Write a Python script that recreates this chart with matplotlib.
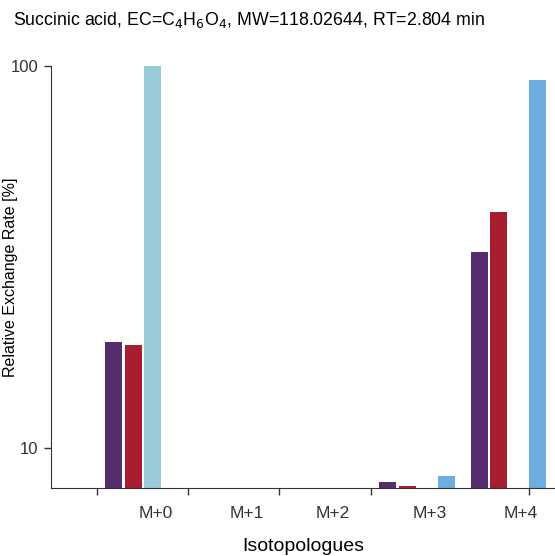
import numpy as np
import matplotlib.pyplot as plt

plt.rcParams['font.family'] = ['Liberation Sans', 'DejaVu Sans']

isotopologues = ["M+0", "M+1", "M+2", "M+3", "M+4"]
# four samples per isotopologue, NaN = not shown
purple_vals = [18.9, np.nan, np.nan, 8.15, 32.6]
red_vals = [18.6, np.nan, np.nan, 7.95, 41.5]
cyan_vals = [100.0, np.nan, np.nan, np.nan, np.nan]
blue_vals = [np.nan, np.nan, np.nan, 8.45, 91.8]

series = [purple_vals, red_vals, cyan_vals, blue_vals]
colors = ["#552D6E", "#A61E2F", "#9ACBD9", "#6EADDF"]

fig = plt.figure(figsize=(5.55, 5.56), dpi=100)
ax = fig.add_axes([51 / 555, 68 / 556, 504 / 555, 422 / 556])

x = np.arange(len(isotopologues))
slot = 0.2136
for j, (vals, c) in enumerate(zip(series, colors)):
    ax.bar(x + (j - 1.5) * slot - 0.01, vals, width=0.186, color=c)

ax.set_yscale("log")
ax.set_ylim(7.86, 100)
ax.set_xlim(-1.019, 4.50)
ax.set_yticks([10, 100])
ax.set_yticklabels(["10", "100"])
ax.yaxis.set_minor_locator(plt.NullLocator())

# labels and tick marks sit at different places
ax.set_xticks([0.13, 1.12, 2.07, 3.13, 4.13])
ax.set_xticklabels(isotopologues)
ax.set_xticks([-0.515, 0.482, 1.479, 2.486, 4.217], minor=True)
ax.tick_params(axis="x", which="major", length=0, pad=13, labelsize=12.5, colors="#333333")
ax.tick_params(axis="x", which="minor", length=5, width=1, color="#333333")
ax.tick_params(axis="y", length=5, width=1, pad=4, labelsize=12, colors="#333333")

for s in ["top", "right"]:
    ax.spines[s].set_visible(False)
for s in ["left", "bottom"]:
    ax.spines[s].set_color("#333333")

ax.set_ylabel("Relative Exchange Rate [%]", fontsize=11.5)
ax.yaxis.set_label_coords(-0.065, 0.5)
ax.set_xlabel("Isotopologues", fontsize=14, labelpad=12)
fig.text(13 / 555, 1 - 20 / 556, "Succinic acid, EC=C$_4$H$_6$O$_4$, MW=118.02644, RT=2.804 min",
         fontsize=12.8, va="center", ha="left")

fig.savefig("out.png", dpi=100)
